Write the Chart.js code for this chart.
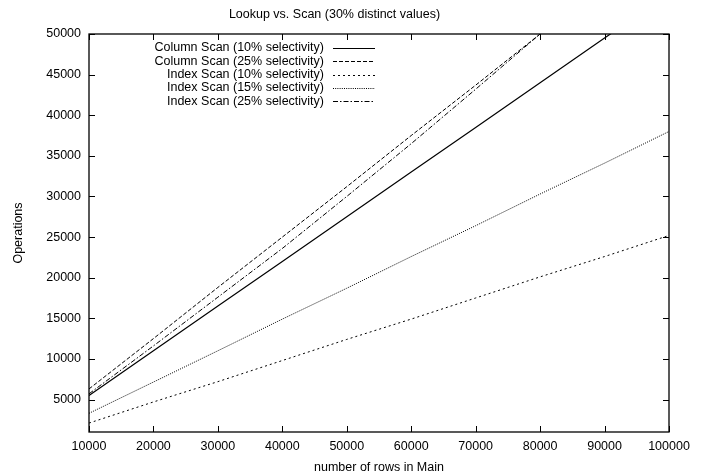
<!DOCTYPE html>
<html>
<head>
<meta charset="utf-8">
<script src="https://cdn.jsdelivr.net/npm/chart.js@4.4.1/dist/chart.umd.min.js"></script>
<style>
  html, body { margin: 0; padding: 0; background: #fff; }
  #wrap { width: 708px; height: 476px; }
</style>
</head>
<body>
<div id="wrap"><canvas id="grafico"></canvas></div>
<script>
// number of rows in Main
const rows = [10000, 20000, 30000, 40000, 50000, 60000, 70000, 80000, 90000, 100000];

// operations
const colScan10 = [5500, 11000, 16500, 22000, 27500, 33000, 38500, 44000, 49500, 55000];
const colScan25 = [6300, 12500, 18800, 25000, 31200, 37500, 43700, 50000, 56200, 62500];
const idxScan10 = [2100, 4700, 7200, 9800, 12400, 14900, 17500, 20100, 22600, 25200];
const idxScan15 = [3300, 7150, 11000, 14900, 18700, 22600, 26400, 30300, 34100, 38000];
const idxScan25 = [5700, 11600, 17600, 23600, 30000, 36500, 43200, 50000, 57000, 64000];

const xTicks = [10000, 20000, 30000, 40000, 50000, 60000, 70000, 80000, 90000, 100000];
const yTicks = [5000, 10000, 15000, 20000, 25000, 30000, 35000, 40000, 45000, 50000];

const fonte = '"Liberation Sans", Arial, Helvetica, sans-serif';

function pontos(vals) {
    return rows.map((x, i) => ({ x: x, y: vals[i] }));
}

function serie(label, vals, dash, width) {
    return {
        label: label,
        data: pontos(vals),
        borderColor: '#000',
        borderWidth: width,
        borderDash: dash,
        pointRadius: 0,
        fill: false,
        tension: 0
    };
}

// gnuplot style frame: box border, inward ticks on all sides, key at top left
const molduraGnuplot = {
    id: 'molduraGnuplot',
    afterDatasetsDraw(chart) {
        const ctx = chart.ctx;
        const a = chart.chartArea;
        const sx = chart.scales.x, sy = chart.scales.y;
        ctx.save();
        ctx.strokeStyle = '#000';
        ctx.lineWidth = 1.3;
        ctx.setLineDash([]);
        ctx.strokeRect(a.left, a.top, a.right - a.left, a.bottom - a.top);

        ctx.lineWidth = 1;
        const len = 6;
        ctx.beginPath();
        xTicks.forEach(v => {
            const px = Math.round(sx.getPixelForValue(v)) + 0.5;
            ctx.moveTo(px, a.bottom); ctx.lineTo(px, a.bottom - len);
            ctx.moveTo(px, a.top); ctx.lineTo(px, a.top + len);
        });
        yTicks.forEach(v => {
            const py = Math.round(sy.getPixelForValue(v)) + 0.5;
            ctx.moveTo(a.left, py); ctx.lineTo(a.left + len, py);
            ctx.moveTo(a.right, py); ctx.lineTo(a.right - len, py);
        });
        ctx.stroke();

        // key
        ctx.font = '12.5px ' + fonte;
        ctx.fillStyle = '#000';
        ctx.textAlign = 'right';
        ctx.textBaseline = 'middle';
        chart.data.datasets.forEach((ds, i) => {
            const y = a.top + 14 + i * 13.3;
            ctx.fillText(ds.label, a.left + 235, y);
            ctx.beginPath();
            ctx.lineWidth = ds.borderWidth;
            ctx.setLineDash(ds.borderDash || []);
            ctx.moveTo(a.left + 244, Math.round(y) + 0.5);
            ctx.lineTo(a.left + 286, Math.round(y) + 0.5);
            ctx.stroke();
        });
        ctx.restore();
    }
};

const ctx = document.getElementById('grafico').getContext('2d');
window.graficoInstancia = new Chart(ctx, {
    type: 'line',
    data: {
        datasets: [
            serie('Column Scan (10% selectivity)', colScan10, [], 1.2),
            serie('Column Scan (25% selectivity)', colScan25, [4, 2], 1),
            serie('Index Scan (10% selectivity)', idxScan10, [2, 3], 1),
            serie('Index Scan (15% selectivity)', idxScan15, [1, 1.2], 1),
            serie('Index Scan (25% selectivity)', idxScan25, [5, 2, 1.5, 2], 1)
        ]
    },
    options: {
        responsive: true,
        maintainAspectRatio: false,
        animation: false,
        layout: { padding: { left: 0, right: 39, top: 0, bottom: 0 } },
        plugins: {
            legend: { display: false },
            tooltip: { enabled: false },
            title: {
                display: true,
                text: 'Lookup vs. Scan (30% distinct values)',
                color: '#000',
                font: { family: fonte, size: 12.5, weight: 'normal' },
                padding: { top: 7, bottom: 12 }
            }
        },
        scales: {
            x: {
                type: 'linear',
                min: 10000,
                max: 100000,
                afterBuildTicks: s => { s.ticks = xTicks.map(v => ({ value: v })); },
                afterFit: s => { s.height = 44; },
                grid: { display: false, drawTicks: false },
                border: { display: false },
                ticks: {
                    color: '#000',
                    font: { family: fonte, size: 12.5 },
                    padding: 7,
                    autoSkip: false,
                    maxRotation: 0,
                    callback: v => String(v)
                },
                title: {
                    display: true,
                    text: 'number of rows in Main',
                    color: '#000',
                    font: { family: fonte, size: 12.5 },
                    padding: { top: 0, bottom: 1 }
                }
            },
            y: {
                type: 'linear',
                min: 1000,
                max: 50000,
                afterBuildTicks: s => { s.ticks = yTicks.map(v => ({ value: v })); },
                afterFit: s => { s.width = 89; },
                grid: { display: false, drawTicks: false },
                border: { display: false },
                ticks: {
                    color: '#000',
                    font: { family: fonte, size: 12.5 },
                    padding: 8,
                    autoSkip: false,
                    callback: v => String(v)
                },
                title: {
                    display: true,
                    text: 'Operations',
                    color: '#000',
                    font: { family: fonte, size: 12.5 },
                    padding: { top: 11, bottom: 0 }
                }
            }
        }
    },
    plugins: [molduraGnuplot]
});
</script>
</body>
</html>
